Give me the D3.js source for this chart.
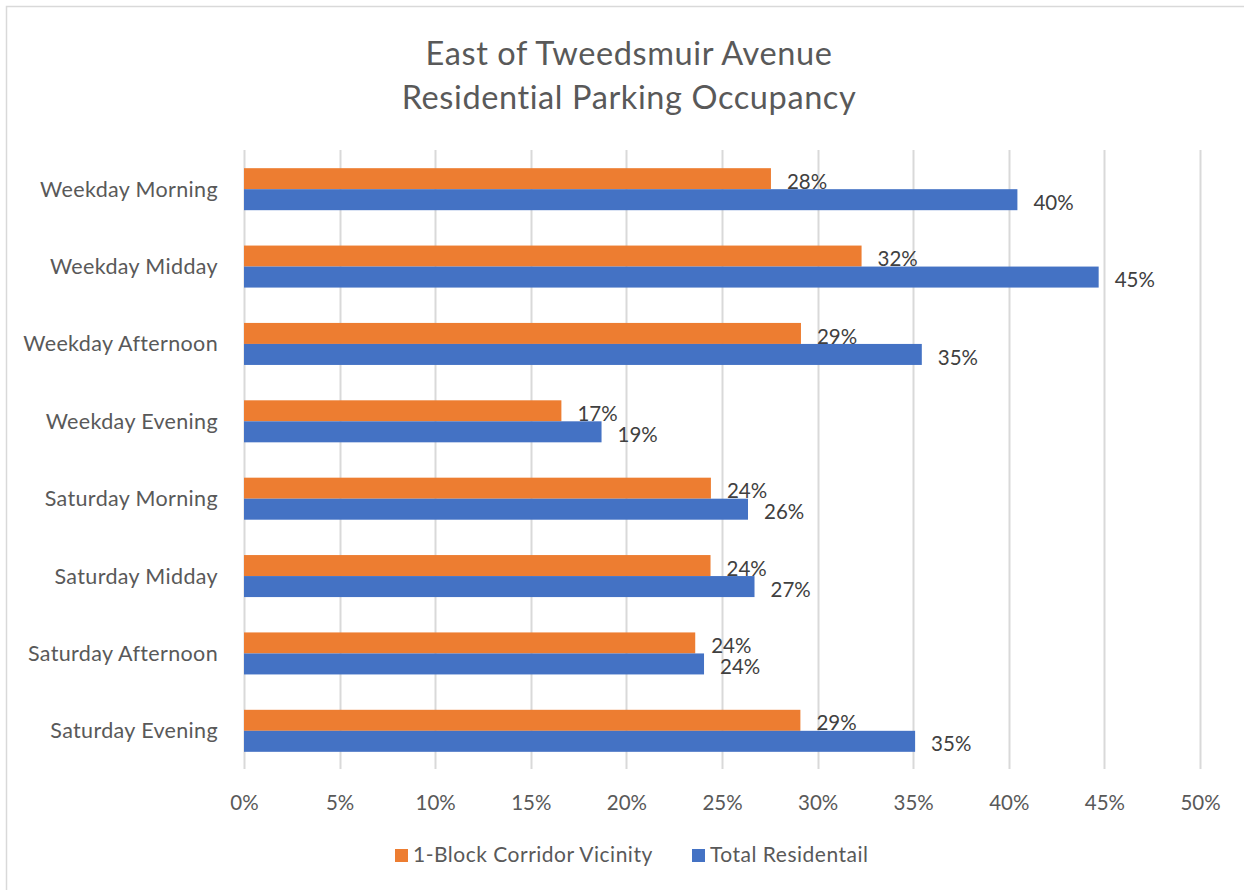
<!DOCTYPE html>
<html>
<head>
<meta charset="utf-8">
<script src="https://cdn.jsdelivr.net/npm/d3@7"></script>
<style>
  html, body { margin: 0; padding: 0; background: #fff; }
  svg { display: block; }
  text { font-family: Lato, "Open Sans", sans-serif; }
</style>
</head>
<body>
<svg id="chart" width="1244" height="890"></svg>
<script>
// Time periods (top to bottom)
const categories = [
  "Weekday Morning", "Weekday Midday", "Weekday Afternoon", "Weekday Evening",
  "Saturday Morning", "Saturday Midday", "Saturday Afternoon", "Saturday Evening"
];
// Occupancy shares per period
const corridorValues = [0.2756, 0.323, 0.2913, 0.166, 0.2442, 0.244, 0.236, 0.291];
const totalValues    = [0.4045, 0.447, 0.3545, 0.187, 0.2636, 0.267, 0.2406, 0.351];
const seriesNames = ["1-Block Corridor Vicinity", "Total Residentail"];
const seriesColors = ["#ED7D31", "#4472C4"];
const xTicks = [0, 0.05, 0.1, 0.15, 0.2, 0.25, 0.3, 0.35, 0.4, 0.45, 0.5];
const titleLines = ["East of Tweedsmuir Avenue", "Residential Parking Occupancy"];

const svg = d3.select("#chart");
const pct = d3.format(".0%");

// chart frame
svg.append("rect")
  .attr("x", 6.5).attr("y", 6.5)
  .attr("width", 1260).attr("height", 900)
  .attr("fill", "#fff").attr("stroke", "#d9d9d9").attr("stroke-width", 1.5);

const plot = { left: 244, right: 1200, top: 150.5, bottom: 769.5 };

const x = d3.scaleLinear().domain([0, 0.5]).range([plot.left, plot.right]);
const y = d3.scaleBand().domain(categories)
  .range([plot.top, plot.bottom]).paddingInner(0.457).paddingOuter(0.2285);
const ySub = d3.scaleBand().domain([0, 1]).range([0, y.bandwidth()]);

// title
svg.append("g").selectAll("text").data(titleLines).join("text")
  .attr("x", 629).attr("y", (d, i) => 65 + i * 44)
  .attr("text-anchor", "middle")
  .attr("font-size", 32.5).attr("letter-spacing", 0.6).attr("fill", "#595959")
  .text(d => d);

// vertical gridlines
svg.append("g").selectAll("line").data(xTicks).join("line")
  .attr("x1", d => Math.round(x(d)) + 0.5).attr("x2", d => Math.round(x(d)) + 0.5)
  .attr("y1", 150).attr("y2", 769)
  .attr("stroke", "#d9d9d9").attr("stroke-width", 2);

// x axis labels
const xAxis = d3.axisBottom(x).tickValues(xTicks).tickFormat(pct).tickSize(0).tickPadding(0);
const xg = svg.append("g").attr("transform", `translate(0, 769)`).call(xAxis);
xg.select(".domain").remove();
xg.selectAll("text")
  .attr("y", 41).attr("dy", 0)
  .attr("font-family", "Lato, 'Open Sans', sans-serif")
  .attr("font-size", 20.5).attr("fill", "#595959");

// category labels
const yAxis = d3.axisLeft(y).tickSize(0).tickPadding(0);
const yg = svg.append("g").attr("transform", `translate(218, 0)`).call(yAxis);
yg.select(".domain").remove();
yg.selectAll("text")
  .attr("x", 0).attr("dy", "0.35em")
  .attr("font-family", "Lato, 'Open Sans', sans-serif")
  .attr("font-size", 21.5).attr("letter-spacing", 0.35).attr("fill", "#595959");

// bars
const series = [corridorValues, totalValues];
const rows = categories.map((c, i) => ({ cat: c, vals: series.map(s => s[i]) }));

const groups = svg.append("g").selectAll("g").data(rows).join("g")
  .attr("transform", d => `translate(0, ${y(d.cat)})`);

groups.selectAll("rect").data(d => d.vals.map((v, k) => ({ v, k }))).join("rect")
  .attr("x", x(0))
  .attr("y", d => ySub(d.k))
  .attr("width", d => x(d.v) - x(0))
  .attr("height", ySub.bandwidth())
  .attr("fill", d => seriesColors[d.k]);

// data labels
groups.selectAll("text").data(d => d.vals.map((v, k) => ({ v, k }))).join("text")
  .attr("x", d => x(d.v) + 16)
  .attr("y", d => ySub(d.k) + ySub.bandwidth() / 2 + 3)
  .attr("dy", "0.35em")
  .attr("font-size", 20.5).attr("fill", "#404040")
  .text(d => pct(d.v));

// legend
const legendItems = [
  { name: seriesNames[0], color: seriesColors[0], x: 395 },
  { name: seriesNames[1], color: seriesColors[1], x: 692 }
];
const lg = svg.append("g").selectAll("g").data(legendItems).join("g")
  .attr("transform", d => `translate(${d.x}, 855)`);
lg.append("rect").attr("x", 0).attr("y", -6).attr("width", 13).attr("height", 13)
  .attr("fill", d => d.color);
lg.append("text").attr("x", 18).attr("y", 0).attr("dy", "0.35em")
  .attr("font-size", 21).attr("letter-spacing", 0.5).attr("fill", "#595959")
  .text(d => d.name);
</script>
</body>
</html>
